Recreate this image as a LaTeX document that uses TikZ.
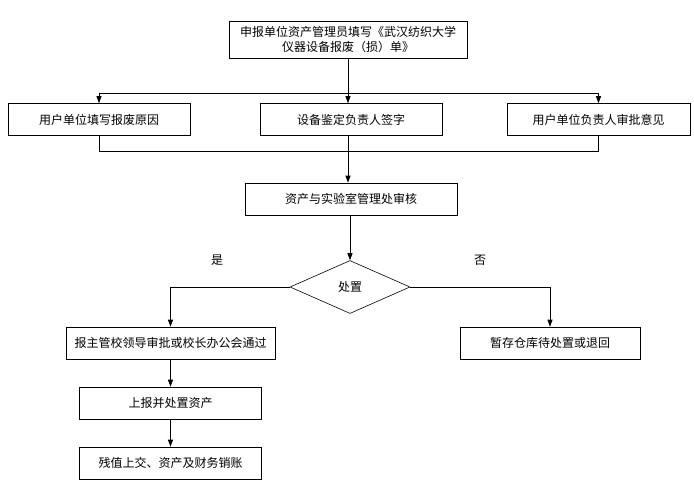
\documentclass[tikz,border=0pt]{standalone}
\usepackage{fontspec}
\newfontfamily\cjk{Noto Sans CJK SC}
\usetikzlibrary{arrows.meta,shapes.geometric}

\begin{document}
\begin{tikzpicture}[x=1pt, y=-1pt, line width=0.6pt,
		box/.style={draw, rectangle, inner sep=0pt, minimum height=32, font=\cjk\fontsize{12}{15}\selectfont, align=center},
		arr/.style={-{Triangle[length=7pt,width=5pt]}}]
				%%%%% START %%%%%
				\useasboundingbox (0, 0) rectangle (694, 483);
				
				\node[box, minimum width=238, minimum height=37] (apply) at (348, 39.5) {申报单位资产管理员填写《武汉纺织大学\\仪器设备报废（损）单》};
				
				\node[box, minimum width=182] (reason) at (99, 119.5) {用户单位填写报废原因};
				\node[box, minimum width=182] (sign) at (351, 119.5) {设备鉴定负责人签字};
				\node[box, minimum width=183] (opinion) at (598.5, 119.5) {用户单位负责人审批意见};
				
				\node[box, minimum width=212] (audit) at (351, 199) {资产与实验室管理处审核};
				
				\node[draw, diamond, inner sep=0pt, minimum width=120, minimum height=53, font=\cjk\fontsize{12}{15}\selectfont] (dispose) at (350, 287) {处置};
				\node[font=\cjk\fontsize{12}{15}\selectfont] (yes) at (217, 260) {是};
				\node[font=\cjk\fontsize{12}{15}\selectfont] (no) at (480, 260) {否};
				
				\node[box, minimum width=209] (approve) at (170.5, 343) {报主管校领导审批或校长办公会通过};
				\node[box, minimum width=180] (store) at (550, 343) {暂存仓库待处置或退回};
				\node[box, minimum width=182] (report) at (170.5, 403) {上报并处置资产};
				\node[box, minimum width=182] (writeoff) at (170.5, 463) {残值上交、资产及财务销账};
				
				\coordinate (split) at (348, 93);
				\coordinate (merge) at (348, 151);
				
				\draw[arr] (apply.south) -- (sign.north -| apply.south);
				\draw[arr] (split) -| (reason.north);
				\draw[arr] (split) -| (opinion.north);
				
				\draw (reason.south) |- (merge);
				\draw (opinion.south) |- (merge);
				\draw[arr, line width=1pt] (sign.south -| merge) -- (audit.north -| merge);
				
				\draw[arr] (audit.south -| dispose.north) -- (dispose.north);
				\draw[arr] (dispose.west) -| (approve.north);
				\draw[arr] (dispose.east) -| (store.north);
				\draw[arr] (approve) -- (report);
				\draw[arr] (report) -- (writeoff);
				%%%%% END %%%%%
\end{tikzpicture}
\end{document}
